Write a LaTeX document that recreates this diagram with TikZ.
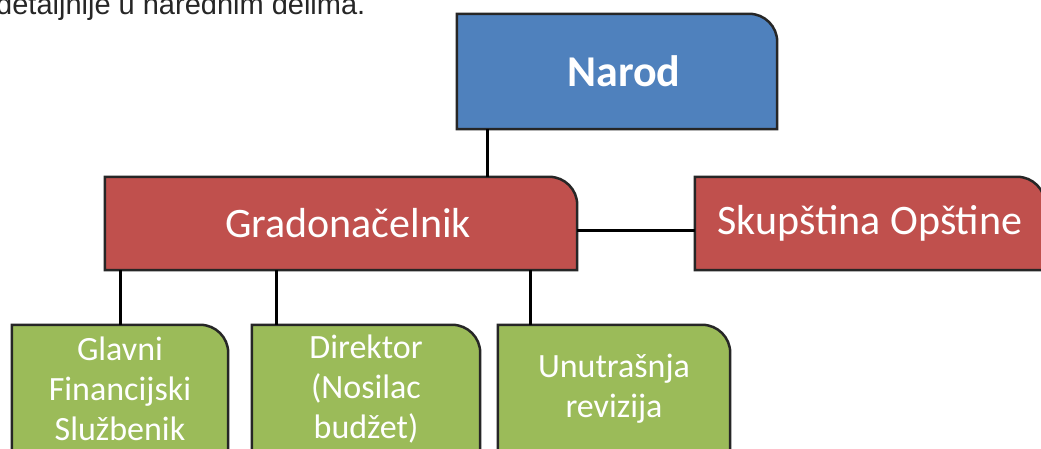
\documentclass[tikz,border=0pt]{standalone}
\usepackage{fontspec}
\setmainfont{Carlito}
\newfontfamily\notefont{Liberation Sans}
\usetikzlibrary{backgrounds}

\definecolor{narodblue}{HTML}{4F81BD}
\definecolor{vlastred}{HTML}{C0504D}
\definecolor{sluzbagreen}{HTML}{9BBB59}
\definecolor{boxline}{HTML}{262626}
\definecolor{notegray}{HTML}{262626}

\tikzset{
	unit/.style={rectangle, inner sep=0pt, text=white, align=center},
	link/.style={line width=3pt, black},
}

% box with only the top right corner rounded
\newcommand{\unitbox}[2]{%
	\draw[fill=#2, draw=boxline, line width=2.5pt]
		(#1.south west) -- (#1.north west) -- ([xshift=-28pt]#1.north east)
		arc[start angle=90, end angle=0, radius=28pt] -- (#1.south east) -- cycle;}

\begin{document}
\begin{tikzpicture}[x=1pt, y=1pt]
		\useasboundingbox (0,0) rectangle (1041,-449);
		\clip (0,0) rectangle (1041,-449);

		% Text above the chart
		\node[anchor=base west, inner sep=0pt, text=notegray, font=\notefont\fontsize{29}{34}\selectfont] (note) at (-4,-15) {detaljnije u narednim delima.};

		% Top level
		\node[unit, minimum width=320pt, minimum height=115pt, font=\bfseries\fontsize{44}{50}\selectfont] (narod) at (617,-71.5) {\hspace*{14pt}Narod};

		% Second level
		\node[unit, minimum width=472pt, minimum height=93pt, font=\fontsize{42}{48}\selectfont] (grad) at (341,-223.5) {\hspace*{14pt}Gradonačelnik};
		\node[unit, minimum width=350pt, minimum height=93pt, font=\fontsize{42}{48}\selectfont] (skup) at (870,-223.5) {Skupština Opštine};

		% Third level
		\node[unit, minimum width=216pt, minimum height=128pt, font=\fontsize{34}{40}\selectfont] (glavni) at (120,-389) {Glavni\\Financijski\\Službenik};
		\node[unit, minimum width=228pt, minimum height=128pt, font=\fontsize{34}{40}\selectfont] (direktor) at (366,-389) {Direktor\\(Nosilac\\budžet)};
		\node[unit, minimum width=232pt, minimum height=128pt, font=\fontsize{34}{40}\selectfont] (revizija) at (614,-389) {Unutrašnja\\revizija};

		% Boxes behind the text
		\begin{scope}[on background layer]
			\unitbox{narod}{narodblue}
			\unitbox{grad}{vlastred}
			\unitbox{skup}{vlastred}
			\unitbox{glavni}{sluzbagreen}
			\unitbox{direktor}{sluzbagreen}
			\unitbox{revizija}{sluzbagreen}
		\end{scope}

		% Connecting lines
		\coordinate (narodfoot) at ([xshift=31pt]narod.south west);
		\coordinate (gradside) at ([yshift=-6.5pt]grad.east);
		\coordinate (direktortop) at ([xshift=25pt]direktor.north west);
		\coordinate (revizijatop) at ([xshift=33pt]revizija.north west);

		\draw[link] (narodfoot) -- (narodfoot |- grad.north);
		\draw[link] (gradside) -- (gradside -| skup.west);
		\draw[link] (glavni.north) -- (glavni.north |- grad.south);
		\draw[link] (direktortop) -- (direktortop |- grad.south);
		\draw[link] (revizijatop) -- (revizijatop |- grad.south);
	\end{tikzpicture}
\end{document}
